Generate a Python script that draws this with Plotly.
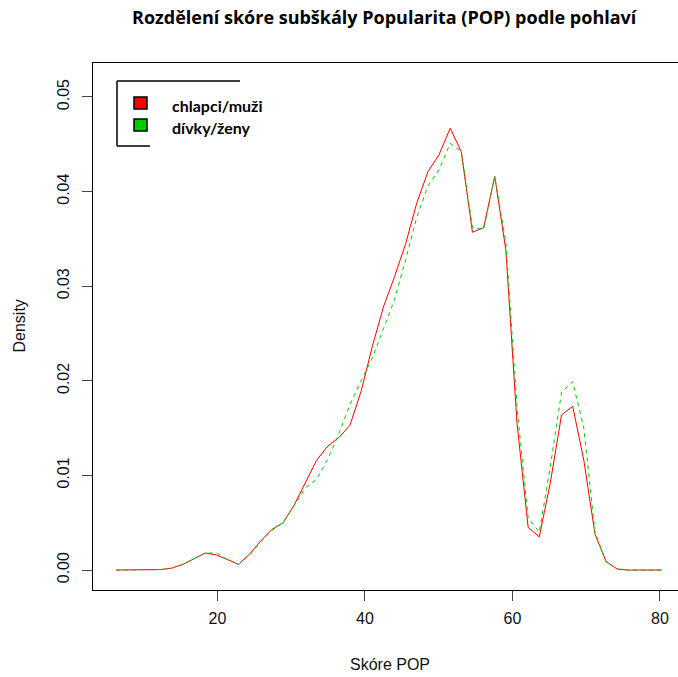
import plotly.graph_objects as go

# ---- data ----
score = [6.26, 7.77, 9.28, 10.79, 12.30, 13.81, 15.32, 16.83, 18.34, 19.85,
         21.36, 22.87, 24.38, 25.89, 27.40, 28.91, 30.42, 31.93, 33.44, 34.95,
         36.46, 37.97, 39.48, 40.99, 42.50, 44.01, 45.52, 47.03, 48.54, 50.05,
         51.56, 53.07, 54.58, 56.09, 57.60, 59.11, 60.62, 62.13, 63.64, 65.15,
         66.66, 68.17, 69.68, 71.19, 72.70, 74.21, 75.72, 77.23, 78.74, 80.25]

dens_boys = [0.0, 0.0, 0.0, 0.00003, 0.00005, 0.0002, 0.0006, 0.0012, 0.0018, 0.0016,
             0.0011, 0.0006, 0.0017, 0.0031, 0.0043, 0.0050, 0.0069, 0.0092, 0.0116, 0.0131,
             0.0140, 0.0153, 0.0189, 0.0236, 0.0278, 0.0310, 0.0345, 0.0388, 0.0421, 0.0439,
             0.0467, 0.0442, 0.0357, 0.0362, 0.0416, 0.0338, 0.0155, 0.0045, 0.0035, 0.0093,
             0.0164, 0.0173, 0.0116, 0.0038, 0.0009, 0.0001, 0.0, 0.0, 0.0, 0.0]

dens_girls = [0.0, 0.0, 0.0, 0.00003, 0.00005, 0.0002, 0.0006, 0.0012, 0.0018, 0.0018,
              0.0011, 0.0006, 0.0016, 0.0030, 0.0042, 0.0050, 0.0069, 0.0087, 0.0096, 0.0117,
              0.0144, 0.0175, 0.0200, 0.0224, 0.0255, 0.0286, 0.0328, 0.0373, 0.0406, 0.0423,
              0.0451, 0.0442, 0.0362, 0.0360, 0.0416, 0.0346, 0.0172, 0.0055, 0.0040, 0.0110,
              0.0188, 0.0199, 0.0150, 0.0040, 0.0009, 0.0001, 0.0, 0.0, 0.0, 0.0]

series_names = ["chlapci/muži", "dívky/ženy"]
series_colors = ["#FF0000", "#00CD00"]

x_ticks = [20, 40, 60, 80]
y_ticks = [0.00, 0.01, 0.02, 0.03, 0.04, 0.05]
y_tick_text = ["0.00", "0.01", "0.02", "0.03", "0.04", "0.05"]

title_text = "Rozdělení skóre subškály Popularita (POP) podle pohlaví"
x_title = "Skóre POP"
y_title = "Density"

# ---- layout geometry ----
W, H = 678, 677
L, R, T, B = 93, 0, 63, 87
PW, PH = W - L - R, H - T - B


def px(xp):
    return (xp - L) / PW


def py(yp):
    return (H - B - yp) / PH


fig = go.Figure()
fig.add_trace(go.Scatter(x=score, y=dens_boys, mode="lines",
                         line=dict(color=series_colors[0], width=1),
                         showlegend=False, name=series_names[0]))
fig.add_trace(go.Scatter(x=score, y=dens_girls, mode="lines",
                         line=dict(color=series_colors[1], width=1, dash="4px,4px"),
                         showlegend=False, name=series_names[1]))

font_axis = "Liberation Sans, Arial, sans-serif"
font_title = "Open Sans, Lato, sans-serif"
font_legend = "Lato, Open Sans, sans-serif"

fig.update_layout(
    width=W, height=H,
    margin=dict(l=L, r=R, t=T, b=B, pad=0),
    paper_bgcolor="white", plot_bgcolor="white",
    xaxis=dict(range=[3.12, 82.45], tickvals=x_ticks, ticks="outside", ticklen=10,
               tickcolor="#444", tickwidth=1, showgrid=False, zeroline=False,
               showline=True, linecolor="black", linewidth=1, mirror=True,
               ticklabelstandoff=4,
               tickfont=dict(family=font_axis, size=16, color="#111")),
    yaxis=dict(range=[-0.00211, 0.05359], tickvals=y_ticks, ticktext=y_tick_text,
               ticks="outside", ticklen=10, tickcolor="#444", tickwidth=1,
               tickangle=-90, showgrid=False, zeroline=False,
               showline=True, linecolor="black", linewidth=1, mirror=False,
               ticklabelstandoff=7,
               tickfont=dict(family=font_axis, size=16, color="#111")),
)

annotations = [
    dict(text=f"<b>{title_text}</b>", x=px(385), y=py(17), xref="paper", yref="paper",
         xanchor="center", yanchor="middle", showarrow=False,
         font=dict(family=font_title, size=18, color="black")),
    dict(text=x_title, x=px(390), y=py(664), xref="paper", yref="paper",
         xanchor="center", yanchor="middle", showarrow=False,
         font=dict(family=font_axis, size=16, color="#111")),
    dict(text=y_title, x=px(19), y=0.5, xref="paper", yref="paper", textangle=-90,
         xanchor="center", yanchor="middle", showarrow=False,
         font=dict(family=font_axis, size=16, color="#111")),
]
legend_text_y = [106, 128]
for name, ty in zip(series_names, legend_text_y):
    annotations.append(dict(text=f"<b>{name}</b>", x=px(170), y=py(ty), xref="paper", yref="paper",
                            xanchor="left", yanchor="middle", showarrow=False,
                            font=dict(family=font_legend, size=16, color="black")))
fig.update_layout(annotations=annotations)

shapes = [
    dict(type="line", x0=px(117), x1=px(240), y0=py(81), y1=py(81), xref="paper", yref="paper",
         line=dict(color="black", width=1.5)),
    dict(type="line", x0=px(117), x1=px(117), y0=py(81), y1=py(146), xref="paper", yref="paper",
         line=dict(color="black", width=1.5)),
    dict(type="line", x0=px(117), x1=px(150), y0=py(146), y1=py(146), xref="paper", yref="paper",
         line=dict(color="black", width=1.5)),
]
square_y = [(97, 109), (119, 131)]
for col, (y0, y1) in zip(series_colors, square_y):
    shapes.append(dict(type="rect", x0=px(134), x1=px(147), y0=py(y0), y1=py(y1),
                       xref="paper", yref="paper", fillcolor=col,
                       line=dict(color="black", width=1.5)))
fig.update_layout(shapes=shapes)

fig.write_html("out.html")
